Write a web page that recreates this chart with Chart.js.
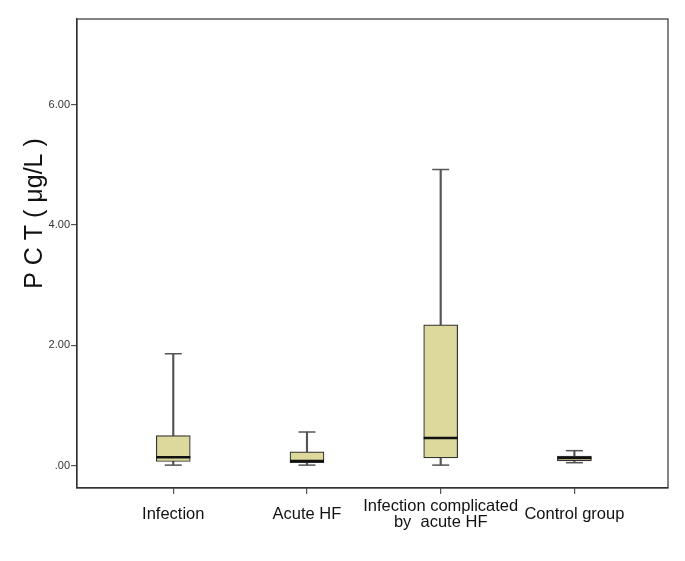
<!DOCTYPE html>
<html>
<head>
<meta charset="utf-8">
<script src="https://cdn.jsdelivr.net/npm/chart.js@4/dist/chart.umd.min.js"></script>
<style>
  html, body { margin: 0; padding: 0; background: #fff; }
  #wrap { width: 685px; height: 561px; }
</style>
</head>
<body>
<div id="wrap"><canvas id="boxChart"></canvas></div>
<script>
// groups and box statistics (PCT, ug/L)
const groups = ["Infection", "Acute HF", ["Infection complicated", "by  acute HF"], "Control group"];
const minVals = [0.01, 0.01, 0.01, 0.05];
const q1Vals = [0.07, 0.05, 0.13, 0.08];
const medianVals = [0.14, 0.08, 0.46, 0.13];
const q3Vals = [0.50, 0.23, 2.34, 0.16];
const maxVals = [1.86, 0.56, 4.92, 0.25];
const yTicks = [0, 2, 4, 6];

const boxFill = '#ddd89c';
const dark = '#333333';

const idx = groups.map((g, i) => i);

const whiskerData = idx.map(i => ({ x: i, y: [minVals[i], maxVals[i]] }));
const boxData = idx.map(i => ({ x: i, y: [q1Vals[i], q3Vals[i]] }));
const capData = idx.flatMap(i => [{ x: i, y: minVals[i] }, { x: i, y: maxVals[i] }]);
const medianData = idx.map(i => ({ x: i, y: medianVals[i] }));

// SPSS style frame round the plot area
const framePlugin = {
    id: 'frame',
    afterDraw(chart) {
        const { ctx, chartArea } = chart;
        ctx.save();
        ctx.strokeStyle = dark;
        ctx.lineWidth = 1.2;
        ctx.strokeRect(chartArea.left, chartArea.top, chartArea.right - chartArea.left, chartArea.bottom - chartArea.top);
        ctx.restore();
    }
};

new Chart(document.getElementById('boxChart'), {
    type: 'bar',
    data: {
        datasets: [
            {
                label: 'Median',
                type: 'line',
                data: medianData,
                showLine: false,
                pointStyle: 'line',
                pointRadius: 17,
                pointBorderWidth: 2.5,
                pointBorderColor: '#111',
                order: 0
            },
            {
                label: 'Caps',
                type: 'line',
                data: capData,
                showLine: false,
                pointStyle: 'line',
                pointRadius: 8.5,
                pointBorderWidth: 1.5,
                pointBorderColor: '#555',
                order: 1
            },
            {
                label: 'Box',
                data: boxData,
                grouped: false,
                barThickness: 34,
                backgroundColor: boxFill,
                borderColor: dark,
                borderWidth: 1.2,
                borderSkipped: false,
                order: 2
            },
            {
                label: 'Whisker',
                data: whiskerData,
                grouped: false,
                barThickness: 1.5,
                backgroundColor: '#555',
                borderWidth: 0,
                order: 3
            }
        ]
    },
    plugins: [framePlugin],
    options: {
        responsive: true,
        maintainAspectRatio: false,
        animation: false,
        layout: { autoPadding: false, padding: { left: 0, top: 19, bottom: 0, right: 17 } },
        plugins: {
            legend: { display: false },
            tooltip: { enabled: false }
        },
        scales: {
            x: {
                type: 'linear',
                position: 'bottom',
                offset: false,
                min: -0.72,
                max: 3.7,
                afterBuildTicks: axis => { axis.ticks = idx.map(v => ({ value: v })); },
                afterFit: axis => { axis.height = 73; axis.paddingLeft = 0; axis.paddingRight = 0; },
                ticks: {
                    callback: v => groups[v],
                    color: '#111',
                    font: { family: 'Liberation Sans', size: 16.5, lineHeight: 0.97 },
                    padding: 12,
                    crossAlign: 'center',
                    maxRotation: 0,
                    autoSkip: false
                },
                grid: { offset: false, drawOnChartArea: false, tickLength: 6, color: '#555', lineWidth: 1.2 },
                border: { color: dark, width: 1.2 }
            },
            y: {
                min: -0.37,
                max: 7.42,
                afterBuildTicks: axis => { axis.ticks = yTicks.map(v => ({ value: v })); },
                afterFit: axis => { axis.width = 77; },
                ticks: {
                    callback: v => v === 0 ? '.00' : v.toFixed(2),
                    color: '#333',
                    font: { family: 'Liberation Sans', size: 11 },
                    padding: 1
                },
                grid: { drawOnChartArea: false, tickLength: 6, color: '#555', lineWidth: 1.2 },
                border: { color: dark, width: 1.2 },
                title: {
                    display: true,
                    // leading spaces lift the title like in the source figure
                    text: '\u2003\u2003\u2003\u2009P C T ( μg/L )',
                    color: '#111',
                    font: { family: 'Liberation Sans', size: 25 },
                    padding: { top: 20, bottom: 0 }
                }
            }
        }
    }
});
</script>
</body>
</html>
